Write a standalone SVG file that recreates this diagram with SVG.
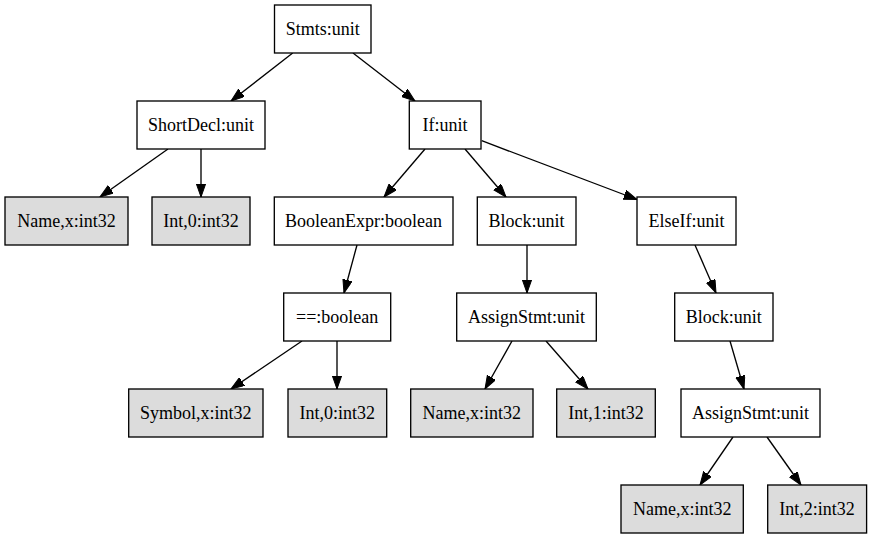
<svg xmlns="http://www.w3.org/2000/svg" width="872" height="539" viewBox="0 0 872 539">
<style>
.n rect{fill:#ffffff;stroke:#000000;stroke-width:1.33}
.leaf rect{fill:#dcdcdc}
.n text{font-family:"Liberation Serif","Times New Roman",serif;font-size:18px;text-anchor:middle;fill:#000000}
.e line{stroke:#000000;stroke-width:1.33;marker-end:url(#ah)}
</style>
<defs>
<marker id="ah" markerUnits="userSpaceOnUse" markerWidth="14" markerHeight="10" refX="13.3" refY="4.7" orient="auto">
<path d="M0,0 L13.3,4.7 L0,9.4 z" fill="#000000" stroke="#000000" stroke-width="1"/>
</marker>
</defs>
<rect width="872" height="539" fill="#ffffff"/>
<g id="edges" class="e">
<line x1="292.7" y1="53" x2="231" y2="101"/>
<line x1="353" y1="53" x2="415" y2="101"/>
<line x1="168" y1="149" x2="100" y2="197"/>
<line x1="201" y1="149" x2="201" y2="197"/>
<line x1="425" y1="149" x2="384" y2="197"/>
<line x1="465" y1="149" x2="506" y2="197"/>
<line x1="481.7" y1="140.7" x2="637" y2="199.5"/>
<line x1="357" y1="245" x2="344" y2="293"/>
<line x1="527" y1="245" x2="527" y2="293"/>
<line x1="302" y1="341" x2="231" y2="389"/>
<line x1="337" y1="341" x2="337" y2="389"/>
<line x1="512" y1="341" x2="485" y2="389"/>
<line x1="546" y1="341" x2="588" y2="389"/>
<line x1="695" y1="245" x2="716" y2="293"/>
<line x1="730" y1="341" x2="744" y2="389"/>
<line x1="733" y1="437" x2="700" y2="485"/>
<line x1="767" y1="437" x2="801" y2="485"/>
</g>
<g id="stmts" class="n"><rect x="274.5" y="5" width="96.5" height="48"/><text x="322.7" y="35">Stmts:unit</text></g>
<g id="shortdecl" class="n"><rect x="137" y="101" width="128" height="48"/><text x="201" y="131">ShortDecl:unit</text></g>
<g id="if" class="n"><rect x="409.3" y="101" width="71.7" height="48"/><text x="445" y="131">If:unit</text></g>
<g id="name1" class="n leaf"><rect x="5" y="197" width="123" height="48"/><text x="66.5" y="227">Name,x:int32</text></g>
<g id="int0a" class="n leaf"><rect x="152" y="197" width="98" height="48"/><text x="201" y="227">Int,0:int32</text></g>
<g id="boolexpr" class="n"><rect x="274.3" y="197" width="178.7" height="48"/><text x="363.6" y="227">BooleanExpr:boolean</text></g>
<g id="block1" class="n"><rect x="477.3" y="197" width="98.7" height="48"/><text x="526.6" y="227">Block:unit</text></g>
<g id="elseif" class="n"><rect x="637" y="197" width="99" height="48"/><text x="686.5" y="227">ElseIf:unit</text></g>
<g id="eq" class="n"><rect x="283.7" y="293" width="107" height="48"/><text x="337.2" y="323">==:boolean</text></g>
<g id="assign1" class="n"><rect x="456.7" y="293" width="139.6" height="48"/><text x="526.5" y="323">AssignStmt:unit</text></g>
<g id="block2" class="n"><rect x="674.7" y="293" width="98.3" height="48"/><text x="723.8" y="323">Block:unit</text></g>
<g id="symbol" class="n leaf"><rect x="128.7" y="389" width="134.3" height="48"/><text x="195.8" y="419">Symbol,x:int32</text></g>
<g id="int0b" class="n leaf"><rect x="288" y="389" width="98.7" height="48"/><text x="337.3" y="419">Int,0:int32</text></g>
<g id="name2" class="n leaf"><rect x="410.7" y="389" width="122.3" height="48"/><text x="471.8" y="419">Name,x:int32</text></g>
<g id="int1" class="n leaf"><rect x="556.7" y="389" width="98.6" height="48"/><text x="606" y="419">Int,1:int32</text></g>
<g id="assign2" class="n"><rect x="681" y="389" width="139" height="48"/><text x="750.5" y="419">AssignStmt:unit</text></g>
<g id="name3" class="n leaf"><rect x="621" y="485" width="122.3" height="48"/><text x="682.2" y="515">Name,x:int32</text></g>
<g id="int2" class="n leaf"><rect x="767.7" y="485" width="98.9" height="48"/><text x="817.1" y="515">Int,2:int32</text></g>
</svg>
